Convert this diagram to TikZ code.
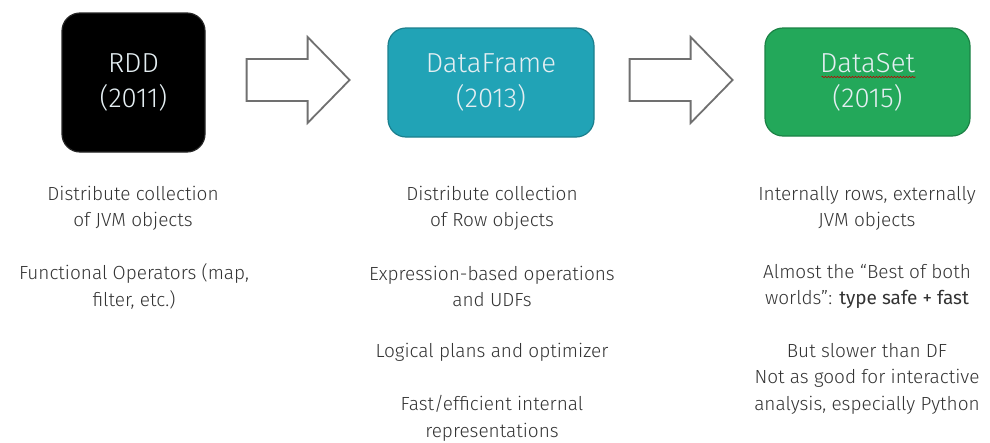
\documentclass[tikz,border=0pt]{standalone}
\usepackage{fontspec}
\setmainfont{Fira Sans Light}[BoldFont={Fira Sans}]
\usetikzlibrary{decorations.pathmorphing}

\definecolor{bodytext}{HTML}{333333}
\definecolor{boxtext}{HTML}{E4EEF2}
\definecolor{dfFill}{HTML}{21A3B6}
\definecolor{dfLine}{HTML}{1B7F8D}
\definecolor{dsFill}{HTML}{23A85A}
\definecolor{dsLine}{HTML}{1B8245}
\definecolor{arrowgray}{HTML}{707070}

% hollow block arrow, #1 is the middle of its tail
\newcommand\flowarrow[1]{%
  \draw[blockarrow] (#1) ++(0,-21) -- ++(61,0) -- ++(0,-22) -- ++(42,43)
    -- ++(-42,43) -- ++(0,-22) -- ++(-61,0) -- cycle;}

\begin{document}
\begin{tikzpicture}[x=1pt,y=-1pt,
  era/.style={rounded corners=18pt, inner sep=0pt, align=center, text=boxtext,
    line width=1.2pt, font=\fontsize{27.5}{35}\selectfont},
  note/.style={align=center, text=bodytext, inner sep=0pt,
    font=\fontsize{19}{26.4}\selectfont},
  blockarrow/.style={draw=arrowgray, line width=1.8pt, fill=white, line join=miter}]
\useasboundingbox (0,0) rectangle (990,442);

% the three API generations
\node[era, fill=black, draw=black!85, minimum width=143pt, minimum height=139pt]
  (rdd) at (133.5,82.5) {RDD\\(2011)};
\node[era, fill=dfFill, draw=dfLine, minimum width=206pt, minimum height=109pt]
  (df) at (491,82.5) {DataFrame\\(2013)};
\node[era, fill=dsFill, draw=dsLine, minimum width=205pt, minimum height=108pt]
  (ds) at (867.5,82) {DataSet\\(2015)};

% spell-check squiggle under "DataSet"
\draw[red!75!black, line width=0.6pt, decorate,
  decoration={snake, amplitude=0.7pt, segment length=3pt}]
  ([xshift=-46pt,yshift=5pt]ds.center) -- ([xshift=48pt,yshift=5pt]ds.center);

% arrows between the generations
\coordinate (a1) at ([xshift=41pt]rdd.east |- 0,80);
\coordinate (a2) at ([xshift=35pt]df.east |- 0,80);
\flowarrow{a1}
\flowarrow{a2}

% RDD notes
\node[note] (r1) at (133,208.5) {Distribute collection\\of JVM objects};
\node[note] (r2) at (134,286.5) {Functional Operators (map,\\filter, etc.)};

% DataFrame notes
\node[note] (d1) at (492,208.5) {Distribute collection\\of Row objects};
\node[note] (d2) at (492,286.5) {Expression-based operations\\and UDFs};
\node[note] (d3) at (492,352.5) {Logical plans and optimizer};
\node[note] (d4) at (492,418.5) {Fast/efficient internal\\representations};

% DataSet notes
\node[note] (s1) at (867,208.5) {Internally rows, externally\\JVM objects};
\node[note] (s2) at (867,286.5) {Almost the “Best of both\\worlds”: \textbf{type safe + fast}};
\node[note] (s3) at (867,378.5) {But slower than DF\\Not as good for interactive\\analysis, especially Python};
\end{tikzpicture}
\end{document}
